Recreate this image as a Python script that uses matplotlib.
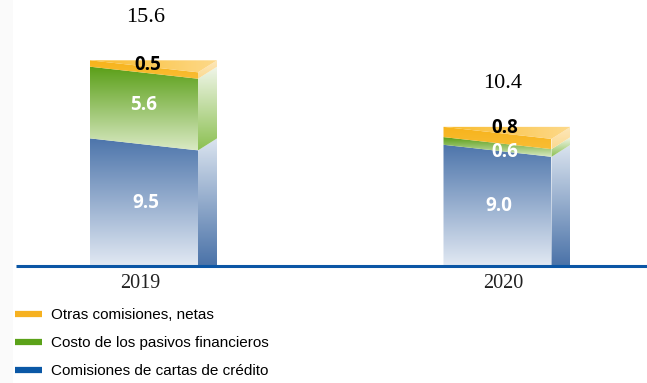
import numpy as np
import matplotlib
matplotlib.use('Agg')
import matplotlib.pyplot as plt
from matplotlib.patches import Polygon
from matplotlib.lines import Line2D
from matplotlib.colors import LinearSegmentedColormap

# datos
years = ['2019', '2020']
cartas = [9.5, 9.0]      # Comisiones de cartas de crédito
pasivos = [5.6, 0.6]     # Costo de los pasivos financieros
otras = [0.5, 0.8]       # Otras comisiones, netas
totals = [15.6, 10.4]
series_names = ['Comisiones de cartas de crédito', 'Costo de los pasivos financieros',
                'Otras comisiones, netas']

# colores: (frente arriba, frente abajo, lado arriba, lado abajo)
blue = ('#4d75ab', '#e2e9f3', '#dbe4ef', '#4a72a8')
green = ('#5a9f17', '#d9e9c3', '#f1f6ea', '#8cc052')
orange = ('#f7b31a', '#f9bd35', '#fde8bd', '#fbd98e')
legend_cols = ['#f6b120', '#5ba219', '#0b58a6']

W, H = 647, 383
fig = plt.figure(figsize=(W / 100, H / 100), dpi=100)
ax = fig.add_axes([0, 0, 1, 1])

px_x = 353.5   # px por unidad en x
px_y = 12.8    # px por unidad en y
base = 266     # linea base (px desde arriba)
x0px = 144
xlim = (-x0px / px_x, (W - x0px) / px_x)
ylim = (-(H - base) / px_y, base / px_y)

w = 108 / px_x      # ancho del frente
d = 19 / px_x       # profundidad del lado
a = 0.47            # inclinacion de los bordes


def grad_poly(verts, c_top, c_bot, z, horizontal=False):
    poly = Polygon(verts, closed=True, facecolor='none', edgecolor='none')
    ax.add_patch(poly)
    xs = [v[0] for v in verts]
    ys = [v[1] for v in verts]
    cmap = LinearSegmentedColormap.from_list('g', [c_bot, c_top])
    g = np.linspace(0, 1, 256)
    arr = g.reshape(1, -1) if horizontal else g.reshape(-1, 1)
    im = ax.imshow(arr, extent=[min(xs), max(xs), min(ys), max(ys)], origin='lower',
                   cmap=cmap, aspect='auto', zorder=z, interpolation='bilinear')
    im.set_clip_path(poly)


def lv(c):
    return c + a if c > 0 else 0


def rv(c):
    return c - a if c > 0 else 0


# franja gris muy tenue a la izquierda
ax.axvspan(xlim[0], xlim[0] + 13 / px_x, color='#fafafa', zorder=0, lw=0)

for i in range(len(years)):
    xc = i
    xl, xr = xc - w / 2, xc + w / 2
    segs = [cartas[i], pasivos[i], otras[i]]
    cols = [blue, green, orange]
    c0 = 0
    for v, col in zip(segs, cols):
        c1 = c0 + v
        front = [(xl, lv(c0)), (xr, rv(c0)), (xr, rv(c1)), (xl, lv(c1))]
        side = [(xr, rv(c0)), (xr + d, lv(c0)), (xr + d, lv(c1)), (xr, rv(c1))]
        grad_poly(front, col[0], col[1], 2)
        grad_poly(side, col[2], col[3], 2)
        c0 = c1
    top = c0
    tri = [(xl, lv(top)), (xr + d, lv(top)), (xr, rv(top))]
    grad_poly(tri, '#fdd98a', '#f9bb2a', 3, horizontal=True)

    # etiquetas de valor
    lab_kw = dict(ha='center', va='center', fontsize=13.5, fontweight='bold',
                  family='Open Sans', zorder=5)
    ax.text(xc + 0.005, cartas[i] / 2 + 0.15, f'{cartas[i]:.1f}', color='white', **lab_kw)
    if pasivos[i] > 2:
        ax.text(xc, cartas[i] + pasivos[i] / 2 + 0.3, f'{pasivos[i]:.1f}', color='white', **lab_kw)
        ax.text(xc + 0.01, top + 0.1, f'{otras[i]:.1f}', color='black', **lab_kw)
    else:
        ax.text(xc + 0.02, cartas[i] - 0.1, f'{pasivos[i]:.1f}', color='white', **lab_kw)
        ax.text(xc + 0.02, top + 0.35, f'{otras[i]:.1f}', color='black', **lab_kw)

    ax.text(xc + 0.005 + 0.01 * i, totals[i] + 3.85, f'{totals[i]:.1f}', ha='center', va='center',
            fontsize=16, family='Liberation Serif', color='black')
    ax.text(xc - 0.01 + 0.025 * i, -1.35, years[i], ha='center', va='center', fontsize=14.5,
            family='Liberation Serif', color='#222222')

ax.plot([16 / px_x + xlim[0], xlim[1]], [0, 0], color='#0b56a5', lw=2.2, zorder=4,
        solid_capstyle='butt')

ax.set_xlim(*xlim)
ax.set_ylim(*ylim)
ax.axis('off')

handles = [Line2D([], [], color=c, lw=4.5, solid_capstyle='butt') for c in legend_cols]
labels = series_names[::-1]
ax.legend(handles, labels, loc='upper left', bbox_to_anchor=(15 / W, 1 - 308 / H),
          frameon=False, borderaxespad=0, borderpad=0,
          handlelength=1.75, handletextpad=0.6, labelspacing=0.92,
          prop={'family': 'Liberation Sans', 'size': 11})

fig.savefig('out.png', dpi=100)
